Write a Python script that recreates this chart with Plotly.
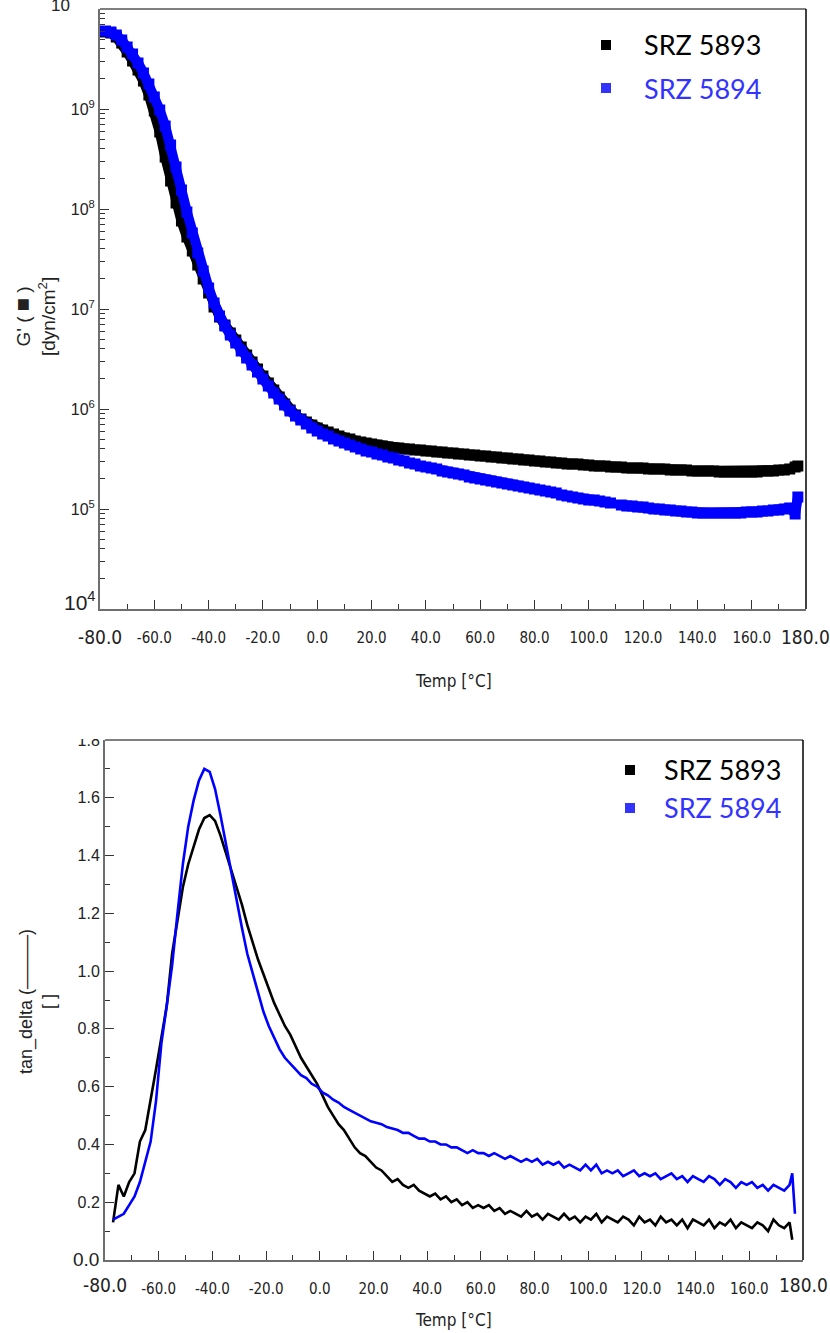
import plotly.graph_objects as go

# ---- data ----
series_names = ["SRZ 5893", "SRZ 5894"]

# G' (log10 of dyn/cm2), temperatures in degC
temp_g = list(range(-78, 177, 2)) + [177]
g_log_5893 = [
    9.77, 9.76, 9.72, 9.66, 9.57, 9.48, 9.39, 9.28, 9.14, 8.98,
    8.77, 8.52, 8.28, 8.06, 7.88, 7.72, 7.58, 7.44, 7.30, 7.16,
    7.02, 6.92, 6.84, 6.76, 6.69, 6.62, 6.54, 6.47, 6.40, 6.33,
    6.26, 6.19, 6.12, 6.05, 5.99, 5.94, 5.90, 5.87, 5.84, 5.81,
    5.79, 5.77, 5.75, 5.73, 5.71, 5.70, 5.68, 5.67, 5.66, 5.65,
    5.64, 5.63, 5.62, 5.61, 5.61, 5.60, 5.60, 5.59, 5.59, 5.58,
    5.58, 5.57, 5.57, 5.56, 5.56, 5.55, 5.55, 5.54, 5.54, 5.53,
    5.53, 5.52, 5.52, 5.51, 5.51, 5.50, 5.50, 5.49, 5.49, 5.48,
    5.48, 5.47, 5.47, 5.46, 5.46, 5.45, 5.45, 5.45, 5.44, 5.44,
    5.43, 5.43, 5.43, 5.42, 5.42, 5.42, 5.41, 5.41, 5.41, 5.41,
    5.40, 5.40, 5.40, 5.40, 5.39, 5.39, 5.39, 5.39, 5.38, 5.38,
    5.38, 5.38, 5.38, 5.37, 5.37, 5.37, 5.37, 5.37, 5.37, 5.37,
    5.37, 5.38, 5.38, 5.38, 5.39, 5.39, 5.40, 5.42, 5.43,
]
g_log_5894 = [
    9.78, 9.77, 9.74, 9.69, 9.62, 9.55, 9.46, 9.36, 9.25, 9.12,
    8.99, 8.83, 8.64, 8.42, 8.19, 7.97, 7.76, 7.56, 7.38, 7.21,
    7.06, 6.93, 6.83, 6.74, 6.66, 6.58, 6.51, 6.44, 6.37, 6.30,
    6.23, 6.16, 6.10, 6.04, 5.98, 5.93, 5.89, 5.85, 5.81, 5.78,
    5.75, 5.73, 5.70, 5.68, 5.66, 5.64, 5.62, 5.60, 5.58, 5.57,
    5.55, 5.54, 5.52, 5.51, 5.49, 5.48, 5.46, 5.45, 5.43, 5.42,
    5.41, 5.40, 5.38, 5.37, 5.36, 5.35, 5.34, 5.32, 5.31, 5.30,
    5.29, 5.28, 5.27, 5.26, 5.25, 5.24, 5.23, 5.22, 5.21, 5.20,
    5.19, 5.18, 5.17, 5.16, 5.14, 5.13, 5.12, 5.11, 5.10, 5.09,
    5.09, 5.08, 5.07, 5.06, None, 5.04, 5.03, 5.03, 5.02, 5.02,
    5.01, 5.00, 5.00, 4.99, 4.99, 4.98, 4.98, 4.97, 4.97, 4.96,
    4.96, 4.96, 4.96, 4.96, 4.96, 4.96, 4.96, 4.96, 4.97, 4.97,
    4.97, 4.98, 4.98, 4.99, 4.99, 5.00, 5.01, 4.95, 5.12,
]

# tan delta
temp_tan = list(range(-77, 176, 2)) + [176, 177]
tan_5893 = [
    0.13, 0.26, 0.22, 0.27, 0.30, 0.41, 0.45, 0.55, 0.66, 0.77,
    0.88, 1.06, 1.18, 1.29, 1.37, 1.43, 1.49, 1.53, 1.54, 1.52,
    1.47, 1.41, 1.35, 1.29, 1.23, 1.16, 1.10, 1.04, 0.99, 0.94,
    0.89, 0.85, 0.81, 0.78, 0.74, 0.70, 0.67, 0.64, 0.61, 0.57,
    0.53, 0.50, 0.47, 0.45, 0.42, 0.39, 0.37, 0.36, 0.34, 0.32,
    0.31, 0.29, 0.27, 0.28, 0.26, 0.25, 0.26, 0.24, 0.23, 0.22,
    0.23, 0.21, 0.22, 0.20, 0.21, 0.19, 0.20, 0.18, 0.19, 0.18,
    0.19, 0.17, 0.18, 0.16, 0.17, 0.16, 0.15, 0.17, 0.15, 0.16,
    0.14, 0.16, 0.15, 0.14, 0.16, 0.14, 0.15, 0.13, 0.15, 0.14,
    0.16, 0.13, 0.15, 0.14, 0.13, 0.15, 0.14, 0.12, 0.15, 0.13,
    0.14, 0.12, 0.15, 0.13, 0.14, 0.12, 0.14, 0.11, 0.14, 0.13,
    0.12, 0.14, 0.11, 0.13, 0.12, 0.14, 0.11, 0.13, 0.12, 0.11,
    0.13, 0.12, 0.10, 0.14, 0.12, 0.11, 0.13, 0.07, None,
]
tan_5894 = [
    0.14, 0.15, 0.16, 0.19, 0.22, 0.27, 0.34, 0.41, 0.55, 0.75,
    0.88, 1.02, 1.20, 1.37, 1.50, 1.59, 1.66, 1.70, 1.69, 1.63,
    1.54, 1.44, 1.34, 1.24, 1.15, 1.06, 0.99, 0.92, 0.86, 0.81,
    0.77, 0.73, 0.70, 0.68, 0.66, 0.64, 0.63, 0.61, 0.60, 0.58,
    0.57, 0.555, 0.545, 0.53, 0.52, 0.51, 0.50, 0.49, 0.48, 0.475,
    0.47, 0.46, 0.455, 0.45, 0.44, 0.44, 0.43, 0.42, 0.42, 0.41,
    0.41, 0.40, 0.40, 0.39, 0.39, 0.38, 0.37, 0.38, 0.37, 0.37,
    0.36, 0.37, 0.36, 0.35, 0.36, 0.35, 0.34, 0.35, 0.34, 0.35,
    0.33, 0.34, 0.33, 0.34, 0.32, 0.33, 0.32, 0.31, 0.33, 0.31,
    0.33, 0.30, 0.31, 0.30, 0.31, 0.29, 0.30, 0.31, 0.29, 0.30,
    0.29, 0.30, 0.28, 0.29, 0.30, 0.28, 0.29, 0.27, 0.29, 0.28,
    0.27, 0.29, 0.28, 0.26, 0.28, 0.27, 0.25, 0.27, 0.26, 0.27,
    0.25, 0.26, 0.24, 0.26, 0.25, 0.24, 0.26, 0.30, 0.16,
]

x_ticks = [-60, -40, -20, 0, 20, 40, 60, 80, 100, 120, 140, 160]
g_ticks = [1e5, 1e6, 1e7, 1e8, 1e9]
g_ticktext = ["10<sup>5</sup>", "10<sup>6</sup>", "10<sup>7</sup>", "10<sup>8</sup>",
              "10<sup>9</sup>"]
tan_ticks = [0.2, 0.4, 0.6, 0.8, 1.0, 1.2, 1.4, 1.6, 1.8]

BLACK = "#000000"
BLUE = "#0000ff"
LEG_BLUE = "#3333ff"
AXIS_GRAY = "#6e6e6e"
W, H = 830, 1333
NARROW = "Liberation Sans Narrow, DejaVu Sans Condensed, Liberation Sans, Arial"
SANS = "Liberation Sans, Arial, sans-serif"


def px(x):
    return x / W


def py(y):
    return 1 - y / H


fig = go.Figure()

g_5893 = [None if v is None else 10 ** v for v in g_log_5893]
g_5894 = [None if v is None else 10 ** v for v in g_log_5894]

for vals, col, name in [(g_5893, BLACK, series_names[0]), (g_5894, BLUE, series_names[1])]:
    fig.add_trace(go.Scatter(
        x=temp_g, y=vals, mode="lines+markers", name=name, showlegend=False,
        line=dict(color=col, width=10),
        marker=dict(symbol="square", size=11, color=col),
        connectgaps=False, xaxis="x", yaxis="y",
    ))

for vals, col, name in [(tan_5893, BLACK, series_names[0]), (tan_5894, BLUE, series_names[1])]:
    fig.add_trace(go.Scatter(
        x=temp_tan, y=vals, mode="lines", name=name, showlegend=False,
        line=dict(color=col, width=2.6), connectgaps=False,
        xaxis="x2", yaxis="y2",
    ))

# plot frames in pixels
TOP = dict(l=100, r=806, t=9, b=609)
BOT = dict(l=105, r=803, t=740, b=1260)

xcommon = dict(
    range=[-80, 180], tickvals=x_ticks, ticktext=["%.1f" % v for v in x_ticks],
    ticks="inside", ticklen=9, tickwidth=1, tickcolor="#333",
    minor=dict(dtick=10, tick0=-80, ticks="inside", ticklen=5, tickcolor="#333", showgrid=False),
    showline=True, linecolor=AXIS_GRAY, linewidth=2, showgrid=False, zeroline=False,
    tickfont=dict(family=NARROW, size=15, color="#222"), ticklabelstandoff=14,
    automargin=False,
)

minor_logs = [m * 10 ** e for e in range(4, 10) for m in range(2, 10)]

fig.update_layout(
    width=W, height=H, autosize=False,
    margin=dict(l=0, r=0, t=0, b=0, pad=0),
    paper_bgcolor="white", plot_bgcolor="white",
    showlegend=False,
    xaxis=dict(domain=[px(TOP["l"]), px(TOP["r"])], anchor="y", **xcommon),
    yaxis=dict(
        domain=[py(TOP["b"]), py(TOP["t"])], anchor="x", type="log", range=[4, 10],
        tickvals=g_ticks, ticktext=g_ticktext,
        ticks="inside", ticklen=9, tickcolor="#333",
        minor=dict(tickmode="array", tickvals=minor_logs, ticks="inside", ticklen=5,
                   tickcolor="#333", showgrid=False),
        showline=True, linecolor=AXIS_GRAY, linewidth=2, showgrid=False, zeroline=False,
        tickfont=dict(family=SANS, size=16, color="#222"), automargin=False,
    ),
    xaxis2=dict(domain=[px(BOT["l"]), px(BOT["r"])], anchor="y2", **xcommon),
    yaxis2=dict(
        domain=[py(BOT["b"]), py(BOT["t"])], anchor="x2", range=[0, 1.8],
        tickvals=tan_ticks, ticktext=["%.1f" % v for v in tan_ticks],
        ticks="inside", ticklen=9, tickcolor="#333",
        minor=dict(dtick=0.1, tick0=0, ticks="inside", ticklen=5, tickcolor="#333", showgrid=False),
        showline=True, linecolor=AXIS_GRAY, linewidth=2, showgrid=False, zeroline=False,
        tickfont=dict(family=SANS, size=16, color="#222"), automargin=False,
    ),
)

shapes = []
# thin black top / right frame lines
for fr in (TOP, BOT):
    shapes.append(dict(type="line", xref="paper", yref="paper",
                       x0=px(fr["l"]), x1=px(fr["r"]), y0=py(fr["t"]), y1=py(fr["t"]),
                       line=dict(color="black", width=1.2)))
    shapes.append(dict(type="line", xref="paper", yref="paper",
                       x0=px(fr["r"]), x1=px(fr["r"]), y0=py(fr["t"]), y1=py(fr["b"]),
                       line=dict(color="black", width=1.5)))
# the bottom original image was cropped through its top tick label
shapes.append(dict(type="rect", xref="paper", yref="paper", layer="above",
                   x0=px(50), x1=px(103), y0=py(739), y1=py(720),
                   fillcolor="white", line=dict(width=0)))

annotations = []


def note(x, y, text, size, color="#222", family=SANS, xanchor="center", angle=0):
    annotations.append(dict(xref="paper", yref="paper", x=px(x), y=py(y), text=text,
                            showarrow=False, xanchor=xanchor, yanchor="middle",
                            textangle=angle, font=dict(family=family, size=size, color=color)))


# cut-off top label of the G' axis (only its lower half shows)
note(60, 6, "10", 17)

# large end labels
note(100, 637, "-80.0", 19, family=NARROW)
note(805, 637, "180.0", 19, family=NARROW)
note(80, 601, "10<sup>4</sup>", 21)
note(105, 1285, "-80.0", 19, family=NARROW)
note(803, 1285, "180.0", 19, family=NARROW)
note(86, 1259, "0.0", 19)

# axis titles
note(453, 681, "Temp [°C]", 17, family=NARROW)
note(453, 1320, "Temp [°C]", 17, family=NARROW)
note(34, 317, "G' ( <span style='font-size:22px'>■</span> )<br>[dyn/cm<sup>2</sup>]", 19, angle=-90)
note(37, 1002, "tan_delta (———)<br>[ ]", 18, angle=-90)

# legends
LEG_FONT = "Lato, Carlito, Open Sans, sans-serif"
for (sx, tx, ys) in [(606, 642, (45, 88)), (630, 662, (770, 808))]:
    for y, col, tcol, name in [(ys[0], BLACK, BLACK, series_names[0]),
                               (ys[1], BLUE, LEG_BLUE, series_names[1])]:
        shapes.append(dict(type="rect", xref="paper", yref="paper",
                           x0=px(sx - 5), x1=px(sx + 5), y0=py(y + 5), y1=py(y - 5),
                           fillcolor=col if col == BLACK else LEG_BLUE, line=dict(width=0)))
        note(tx, y, name, 27, color=tcol, family=LEG_FONT, xanchor="left")

fig.update_layout(shapes=shapes, annotations=annotations)

# drop the default 8px page margin so the figure fills the window exactly
fig.write_html("out.html", config={"displayModeBar": False},
               post_script="document.body.style.margin='0px';")
